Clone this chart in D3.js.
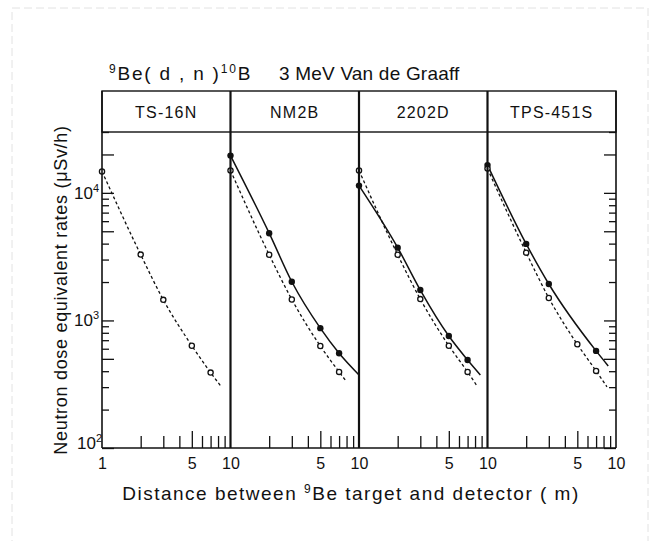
<!DOCTYPE html>
<html><head><meta charset="utf-8">
<script src="https://cdn.jsdelivr.net/npm/d3@7"></script>
<style>
body{margin:0;background:#fff;}
text{font-family:"Liberation Sans",Arial,sans-serif;fill:#111;}
</style></head>
<body><svg id="c" width="659" height="541"></svg>
<script>
// ---- data ----
const panels = ["TS-16N", "NM2B", "2202D", "TPS-451S"];
const openX = [1, 2, 3, 5, 7];
const openTS16N = [14700, 3280, 1450, 634, 390];
const openNM2B = [15000, 3270, 1460, 630, 395];
const open2202D = [15000, 3270, 1470, 634, 395];
const openTPS451S = [15500, 3400, 1500, 650, 402];
const dashEndX = [8.4, 8.0, 8.3, 8.5];
const dashEndY = [306, 331, 306, 302];
const filledNM2BX = [1, 2, 3, 5, 7];
const filledNM2B = [19600, 4830, 2010, 870, 553];
const filled2202DX = [1, 2, 3, 5, 7];
const filled2202D = [11400, 3720, 1730, 755, 490];
const filledTPS451SX = [1, 2, 3, 7];
const filledTPS451S = [16500, 3980, 1930, 577];
const solidEndX = [null, 10, 8.8, 8.7];
const solidEndY = [null, 374, 374, 440];
const yMajor = [100, 1000, 10000];
const yLabels = ["10", "10", "10"];
const yLabelExp = ["2", "3", "4"];

const openSets = [openTS16N, openNM2B, open2202D, openTPS451S];
const filledSets = [null, [filledNM2BX, filledNM2B], [filled2202DX, filled2202D], [filledTPS451SX, filledTPS451S]];

const svg = d3.select("#c");
const pLeft = 102, pw = 128.5, pTop = 132, pBottom = 448, headTop = 91;
const pRight = pLeft + pw * panels.length;
const y = d3.scaleLog().domain([100, 30000]).range([pBottom, pTop]);

// faint page frame
svg.append("path").attr("d", "M12,560 V8 H648 V560")
  .attr("fill", "none").attr("stroke", "#e2e2e2").attr("stroke-width", 1).attr("stroke-dasharray", "8,4");

// title
const title = svg.append("text").attr("x", 109).attr("y", 80).style("font-size", "19px").style("letter-spacing", "1.8px");
title.append("tspan").text("9").attr("dy", -7).style("font-size", "12px");
title.append("tspan").text("Be( d , n )").attr("dy", 7);
title.append("tspan").text("10").attr("dy", -7).style("font-size", "12px");
title.append("tspan").text("B").attr("dy", 7);
svg.append("text").attr("x", 279).attr("y", 80).style("font-size", "19px").style("letter-spacing", "0.2px").text("3 MeV Van de Graaff");

// header box
svg.append("rect").attr("x", pLeft).attr("y", headTop).attr("width", pRight - pLeft).attr("height", pTop - headTop)
  .attr("fill", "none").attr("stroke", "#111").attr("stroke-width", 1.4);

const yMinor = [], yFive = [];
for (let d = 100; d <= 10000; d *= 10) for (let k = 2; k <= 9; k++) { const v = k * d; if (v <= 30000) (k === 5 ? yFive : yMinor).push(v); }

const lineGen = (x) => d3.line().x(d => x(d[0])).y(d => y(d[1])).curve(d3.curveMonotoneX);

panels.forEach((name, i) => {
  const x = d3.scaleLog().domain([1, 10]).range([pLeft + i * pw, pLeft + (i + 1) * pw]);
  const g = svg.append("g");
  svg.append("text").attr("x", pLeft + (i + 0.5) * pw).attr("y", 118).attr("text-anchor", "middle")
    .style("font-size", "16px").style("letter-spacing", "1.2px").text(name);
  const minors = [2, 3, 4, 6, 7, 8, 9];
  g.append("g").attr("transform", `translate(0,${pBottom})`)
    .call(d3.axisBottom(x).tickValues(minors).tickSize(-12).tickFormat(""))
    .call(a => a.select(".domain").remove());
  g.append("g").attr("transform", `translate(0,${pBottom})`)
    .call(d3.axisBottom(x).tickValues([5]).tickSize(-17).tickFormat(""))
    .call(a => a.select(".domain").remove());
  const labVals = i === 0 ? [1, 5, 10] : [5, 10];
  g.append("g").attr("transform", `translate(0,${pBottom})`)
    .call(d3.axisBottom(x).tickValues(labVals).tickSize(0).tickPadding(10).tickFormat(d3.format("d")))
    .call(a => { a.select(".domain").remove(); a.selectAll("text").style("font-size", "16px").style("font-family", "Liberation Sans, Arial, sans-serif").attr("fill", "#111"); });
  g.selectAll(".tick line").attr("stroke", "#111").attr("stroke-width", 1.3);

  const od = openX.map((v, j) => [v, openSets[i][j]]).concat([[dashEndX[i], dashEndY[i]]]);
  g.append("path").attr("d", lineGen(x)(od)).attr("fill", "none").attr("stroke", "#111")
    .attr("stroke-width", 1.3).attr("stroke-dasharray", "3,2.5");
  if (filledSets[i]) {
    const [fx, fy] = filledSets[i];
    const sd = fx.map((v, j) => [v, fy[j]]).concat([[solidEndX[i], solidEndY[i]]]);
    g.append("path").attr("d", lineGen(x)(sd)).attr("fill", "none").attr("stroke", "#111").attr("stroke-width", 1.5);
    g.selectAll(".fp").data(fx.map((v, j) => [v, fy[j]])).join("circle")
      .attr("cx", d => x(d[0])).attr("cy", d => y(d[1])).attr("r", 3.2).attr("fill", "#111");
  }
  g.selectAll(".op").data(openX.map((v, j) => [v, openSets[i][j]])).join("circle")
    .attr("cx", d => x(d[0])).attr("cy", d => y(d[1])).attr("r", 2.6)
    .attr("fill", "#fff").attr("stroke", "#111").attr("stroke-width", 1.3);
});

svg.append("line").attr("x1", pLeft).attr("x2", pRight).attr("y1", pBottom).attr("y2", pBottom)
  .attr("stroke", "#111").attr("stroke-width", 1.6);
d3.range(panels.length + 1).forEach(i => {
  const xx = pLeft + i * pw;
  svg.append("line").attr("x1", xx).attr("x2", xx).attr("y1", headTop).attr("y2", pBottom)
    .attr("stroke", "#111").attr("stroke-width", i === 0 || i === panels.length ? 1.6 : 2.2);
});

function yTicks(axisFn, xpos) {
  [[[100, 1000, 10000, 20000], 12], [yFive, 12], [yMinor.filter(v => v !== 20000), 7]].forEach(([vals, len]) => {
    const a = svg.append("g").attr("transform", `translate(${xpos},0)`)
      .call(axisFn(y).tickValues(vals).tickSize(-len).tickFormat(""));
    a.select(".domain").remove();
    a.selectAll(".tick line").attr("stroke", "#111").attr("stroke-width", 1.3);
  });
}
yTicks(d3.axisLeft, pLeft);
yTicks(d3.axisRight, pRight);

yMajor.forEach((v, j) => {
  const t = svg.append("text").attr("x", j === 0 ? 102 : 99).attr("y", y(v) + (j === 0 ? 1 : 6))
    .attr("text-anchor", "end").style("font-size", "17px");
  t.append("tspan").text(yLabels[j]);
  t.append("tspan").text(yLabelExp[j]).attr("dy", -7).style("font-size", "11px");
});

const xt = svg.append("text").attr("x", 351).attr("y", 500).attr("text-anchor", "middle").style("font-size", "19px").style("letter-spacing", "1.5px");
xt.append("tspan").text("Distance between ");
xt.append("tspan").text("9").attr("dy", -7).style("font-size", "12px");
xt.append("tspan").text("Be target and detector ( m)").attr("dy", 7);

svg.append("text").attr("transform", "translate(67,290) rotate(-90)").attr("text-anchor", "middle")
  .style("font-size", "18px").style("letter-spacing", "0.7px").text("Neutron dose equivalent rates  (μSv/h)");
</script></body></html>
